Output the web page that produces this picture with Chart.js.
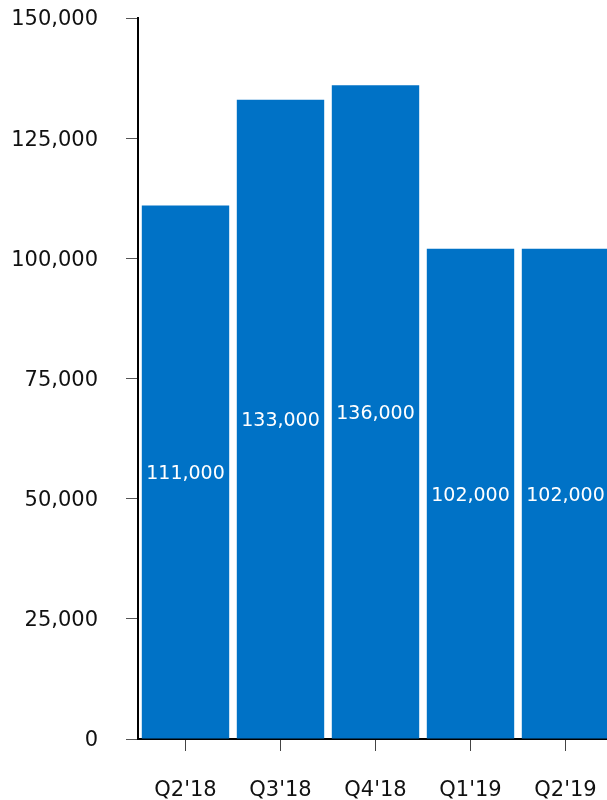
<!DOCTYPE html>
<html lang="en">
<head>
    <meta charset="UTF-8">
    <title>Quarterly totals</title>
    <script src="https://cdn.jsdelivr.net/npm/chart.js"></script>
    <style>
        html, body { margin: 0; padding: 0; background: #fff; overflow: hidden; }
        canvas { display: block; }
    </style>
</head>
<body>
    <canvas id="quarterChart" width="613" height="800"></canvas>

    <script>
const quarters = ["Q2'18", "Q3'18", "Q4'18", "Q1'19", "Q2'19"];
const totals = [111000, 133000, 136000, 102000, 102000];
const yTicks = [0, 25000, 50000, 75000, 100000, 125000, 150000];

const FONT = '"DejaVu Sans", Verdana, sans-serif';

// writes each value in white, halfway up its bar
const barValueLabels = {
    id: 'barValueLabels',
    afterDatasetsDraw(chart) {
        const ctx = chart.ctx;
        const meta = chart.getDatasetMeta(0);
        ctx.save();
        ctx.fillStyle = '#ffffff';
        ctx.font = '19px ' + FONT;
        ctx.textAlign = 'center';
        ctx.textBaseline = 'middle';
        meta.data.forEach((bar, i) => {
            const midY = (bar.y + bar.base) / 2 + 2;
            ctx.fillText(totals[i].toLocaleString('en-US'), bar.x, midY);
        });
        ctx.restore();
    }
};

new Chart(
    document.getElementById('quarterChart'),
    {
        type: 'bar',
        data: {
            labels: quarters,
            datasets: [{
                data: totals,
                backgroundColor: '#0072C6',
                barPercentage: 0.92,
                categoryPercentage: 1.0
            }]
        },
        options: {
            responsive: false,
            animation: false,
            layout: { padding: { top: 18, right: 0, bottom: 0, left: 0 } },
            plugins: {
                legend: { display: false },
                tooltip: { enabled: false }
            },
            scales: {
                x: {
                    afterFit: scale => {
                        scale.height = 61;
                        scale.paddingLeft = 0;
                        scale.paddingRight = 0;
                    },
                    grid: {
                        offset: false,
                        drawOnChartArea: false,
                        tickLength: 12,
                        tickColor: '#444',
                        tickWidth: 1
                    },
                    border: { display: true, color: '#000', width: 2 },
                    ticks: {
                        color: '#111',
                        font: { family: FONT, size: 21 },
                        padding: 27,
                        maxRotation: 0
                    }
                },
                y: {
                    min: 0,
                    max: 150000,
                    afterFit: scale => {
                        scale.width = 138;
                        scale.paddingTop = 0;
                        scale.paddingBottom = 0;
                    },
                    afterBuildTicks: scale => {
                        scale.ticks = yTicks.map(v => ({ value: v }));
                    },
                    grid: {
                        drawOnChartArea: false,
                        tickLength: 12,
                        tickColor: '#555',
                        tickWidth: 1
                    },
                    border: { display: true, color: '#000', width: 2 },
                    ticks: {
                        color: '#111',
                        font: { family: FONT, size: 21 },
                        padding: 28,
                        labelOffset: 2,
                        callback: v => v.toLocaleString('en-US')
                    }
                }
            }
        },
        plugins: [barValueLabels]
    }
);
</script>
</body>
</html>
